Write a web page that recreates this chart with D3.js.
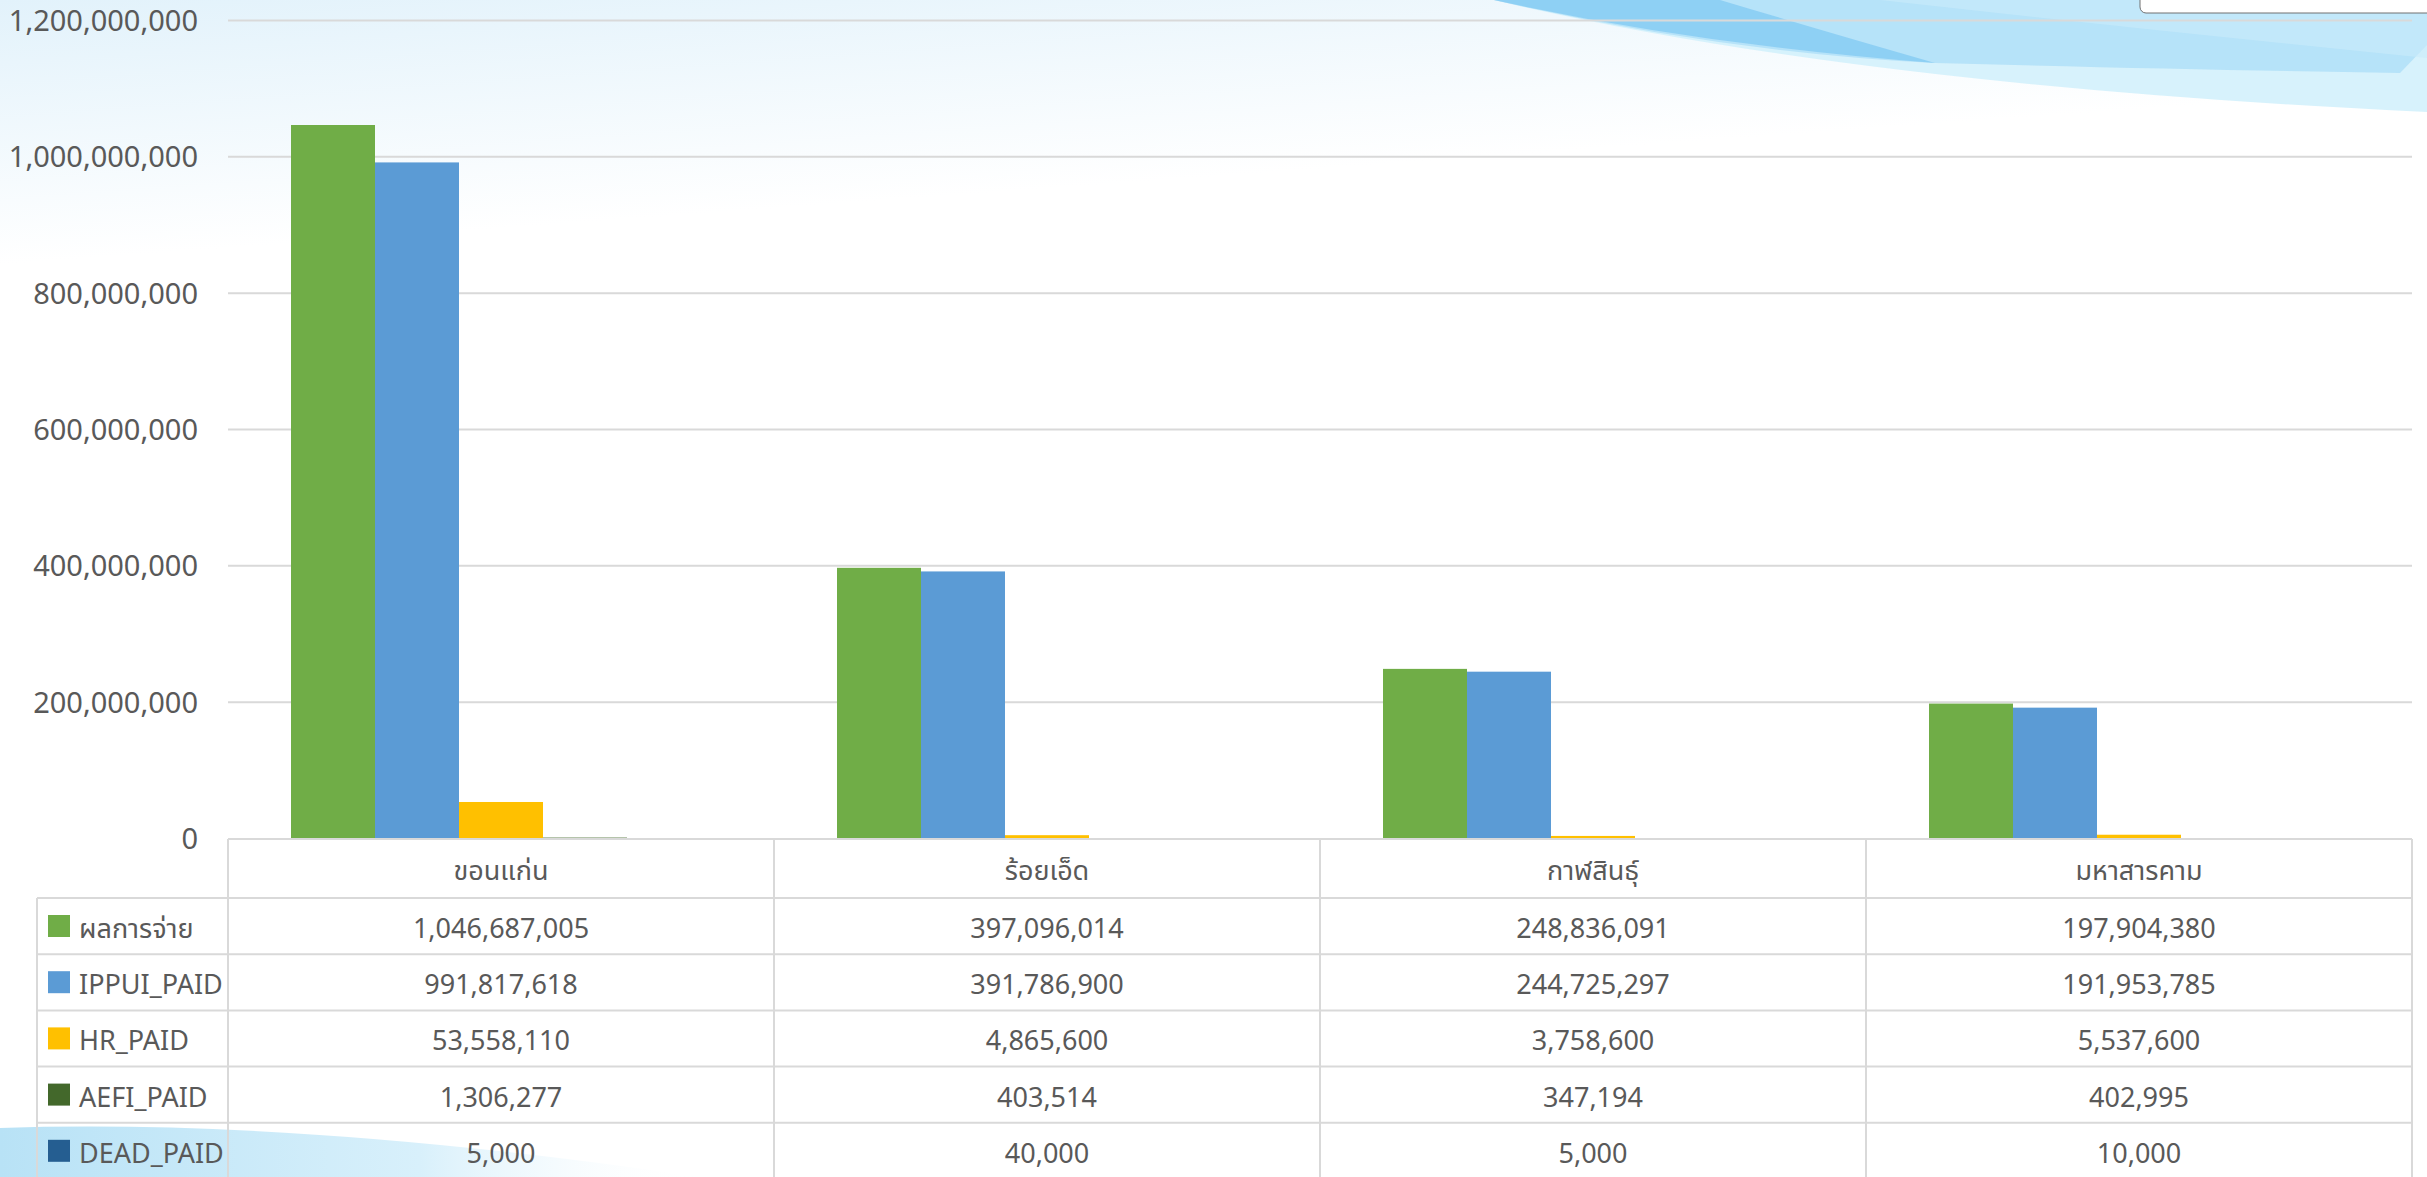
<!DOCTYPE html>
<html>
<head>
<meta charset="utf-8">
<script src="https://cdn.jsdelivr.net/npm/d3@7"></script>
<style>
  body { margin: 0; background: #fff; }
  svg { display: block; }
  text { font-family: 'Noto Sans', 'Noto Sans Thai', 'Leelawadee UI', sans-serif; fill: #595959; }
</style>
</head>
<body>
<div id="chart"></div>
<script>
const WIDTH = 2427;
const HEIGHT = 1177;

// chart data
const categories = ['ขอนแก่น', 'ร้อยเอ็ด', 'กาฬสินธุ์', 'มหาสารคาม'];
const seriesNames = ['ผลการจ่าย', 'IPPUI_PAID', 'HR_PAID', 'AEFI_PAID', 'DEAD_PAID'];
const paidTotal = [1046687005, 397096014, 248836091, 197904380];
const ippuiPaid = [991817618, 391786900, 244725297, 191953785];
const hrPaid = [53558110, 4865600, 3758600, 5537600];
const aefiPaid = [1306277, 403514, 347194, 402995];
const deadPaid = [5000, 40000, 5000, 10000];
const yTicks = [0, 200000000, 400000000, 600000000, 800000000, 1000000000, 1200000000];
const seriesColors = ['#70AD47', '#5B9BD5', '#FFC000', '#43682B', '#255E91'];

const seriesValues = [paidTotal, ippuiPaid, hrPaid, aefiPaid, deadPaid];

const margin = {left: 228, right: 15, top: 20.5, bottom: 338.5};
const plotRight = WIDTH - margin.right;
const plotBottom = HEIGHT - margin.bottom;
const tableLeft = 37;
const headerHeight = 59;
const rowHeight = 56.2;

const fmt = d3.format(',');

const svg = d3.select('#chart').append('svg')
    .attr('width', WIDTH)
    .attr('height', HEIGHT);

/**
 * Slide background: soft blue tint and swooshes.
 */
function drawBackground() {
  const defs = svg.append('defs');
  const topGrad = defs.append('linearGradient')
      .attr('id', 'topTint').attr('x1', 0).attr('y1', 0).attr('x2', 0.15).attr('y2', 1);
  topGrad.append('stop').attr('offset', 0).attr('stop-color', '#e2f2fb');
  topGrad.append('stop').attr('offset', 0.22).attr('stop-color', '#ffffff');
  topGrad.append('stop').attr('offset', 1).attr('stop-color', '#ffffff');

  const bottomGrad = defs.append('linearGradient')
      .attr('id', 'bottomWave').attr('x1', 0).attr('y1', 0).attr('x2', 1).attr('y2', 0);
  bottomGrad.append('stop').attr('offset', 0).attr('stop-color', '#b8e2f6');
  bottomGrad.append('stop').attr('offset', 0.6).attr('stop-color', '#d8f0fb');
  bottomGrad.append('stop').attr('offset', 1).attr('stop-color', '#ffffff').attr('stop-opacity', 0);

  svg.append('rect').attr('width', WIDTH).attr('height', HEIGHT).attr('fill', 'url(#topTint)');

  const swoosh = svg.append('g');
  swoosh.append('path')
      .attr('d', 'M1494,0 Q1850,85 2427,112 L2427,0 Z')
      .attr('fill', '#d3f1fc').attr('opacity', 0.9);
  swoosh.append('path')
      .attr('d', 'M1494,0 Q1720,52 1935,63 Q2200,70 2400,73 L2427,45 L2427,0 Z')
      .attr('fill', '#aedff7').attr('opacity', 0.8);
  swoosh.append('path')
      .attr('d', 'M1494,0 Q1700,45 1935,63 Q1820,30 1720,0 Z')
      .attr('fill', '#84cbf3').attr('opacity', 0.8);
  swoosh.append('path')
      .attr('d', 'M1880,0 Q2150,30 2427,58 L2427,0 Z')
      .attr('fill', '#c9ebfa').attr('opacity', 0.6);

  svg.append('path')
      .attr('d', 'M0,1128 Q300,1118 700,1177 L0,1177 Z')
      .attr('fill', 'url(#bottomWave)');

  // cut-off note box in the top right corner
  svg.append('rect')
      .attr('x', 2140).attr('y', -12).attr('width', 300).attr('height', 25)
      .attr('rx', 6).attr('fill', '#fff').attr('stroke', '#707070').attr('stroke-width', 1);
}

/**
 * Grid lines and y axis labels.
 */
function drawAxes(y) {
  svg.append('g')
     .selectAll('line')
     .data(yTicks.filter((d) => d > 0))
     .enter()
     .append('line')
     .attr('x1', margin.left)
     .attr('x2', plotRight)
     .attr('y1', (d) => y(d))
     .attr('y2', (d) => y(d))
     .attr('stroke', '#d9d9d9')
     .attr('stroke-width', 2);

  const yAxis = d3.axisLeft(y).tickValues(yTicks).tickFormat(fmt).tickSize(0).tickPadding(30);
  const g = svg.append('g')
     .attr('transform', 'translate(' + margin.left + ',0)')
     .call(yAxis);
  g.select('.domain').remove();
  g.selectAll('text')
   .style('font-size', '29px')
   .attr('fill', '#595959')
   .attr('dy', '0.35em');
}

/**
 * Clustered bars.
 */
function drawBars(x0, x1, y) {
  const group = svg.append('g')
     .selectAll('g')
     .data(categories)
     .enter()
     .append('g')
     .attr('transform', (d) => 'translate(' + x0(d) + ',0)');
  group.selectAll('rect')
       .data((d, ci) => seriesNames.map((s, si) => ({series: s, si: si, value: seriesValues[si][ci]})))
       .enter()
       .append('rect')
       .attr('x', (d) => x1(d.series))
       .attr('width', x1.bandwidth())
       .attr('y', (d) => y(d.value))
       .attr('height', (d) => y(0) - y(d.value))
       .attr('fill', (d) => seriesColors[d.si]);
}

/**
 * Data table under the plot, with legend keys.
 */
function drawTable(x0) {
  const top = plotBottom + 0.5;
  const rowTops = seriesNames.map((d, i) => top + headerHeight + i * rowHeight);
  const lines = svg.append('g')
     .attr('stroke', '#d9d9d9')
     .attr('stroke-width', 2);

  // header top line and row lines
  lines.append('line')
       .attr('x1', margin.left).attr('x2', plotRight)
       .attr('y1', top).attr('y2', top);
  lines.selectAll('.row-line')
       .data(rowTops)
       .enter()
       .append('line')
       .attr('class', 'row-line')
       .attr('x1', tableLeft).attr('x2', plotRight)
       .attr('y1', (d) => d).attr('y2', (d) => d);

  // column lines
  const colEdges = categories.map((c) => x0(c)).concat([x0(categories[categories.length - 1]) + x0.bandwidth()]);
  lines.selectAll('.col-line')
       .data(colEdges)
       .enter()
       .append('line')
       .attr('class', 'col-line')
       .attr('x1', (d) => d).attr('x2', (d) => d)
       .attr('y1', top).attr('y2', HEIGHT);
  lines.append('line')
       .attr('x1', tableLeft).attr('x2', tableLeft)
       .attr('y1', rowTops[0]).attr('y2', HEIGHT);

  // category headers
  svg.append('g')
     .selectAll('text')
     .data(categories)
     .enter()
     .append('text')
     .attr('x', (d) => x0(d) + x0.bandwidth() / 2)
     .attr('y', top + 41)
     .attr('text-anchor', 'middle')
     .style('font-size', '27px')
     .text((d) => d);

  // legend keys
  const legend = svg.append('g')
     .selectAll('g')
     .data(seriesNames)
     .enter()
     .append('g')
     .attr('transform', (d, i) => 'translate(0,' + rowTops[i] + ')');
  legend.append('rect')
        .attr('x', 48)
        .attr('y', 17)
        .attr('width', 22)
        .attr('height', 22)
        .attr('fill', (d, i) => seriesColors[i]);
  legend.append('text')
        .attr('x', 79)
        .attr('y', 40)
        .style('font-size', '27px')
        .text((d) => d);

  // values
  legend.selectAll('.val')
        .data((d, si) => seriesValues[si].map((v, ci) => ({v: v, c: categories[ci]})))
        .enter()
        .append('text')
        .attr('class', 'val')
        .attr('x', (d) => x0(d.c) + x0.bandwidth() / 2)
        .attr('y', 40)
        .attr('text-anchor', 'middle')
        .style('font-size', '27px')
        .text((d) => fmt(d.v));
}

drawBackground();

const y = d3.scaleLinear().domain([0, 1200000000]).range([plotBottom, margin.top]);
const x0 = d3.scaleBand().domain(categories).range([margin.left, plotRight]);
const x1 = d3.scaleBand().domain(seriesNames).range([0, x0.bandwidth()]).paddingOuter(0.75);

drawAxes(y);
drawBars(x0, x1, y);
drawTable(x0);
</script>
</body>
</html>
